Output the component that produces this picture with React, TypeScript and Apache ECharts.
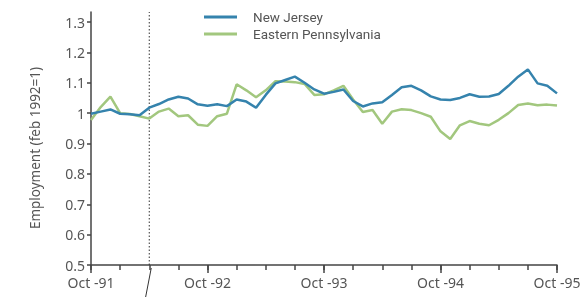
import React, { useEffect, useRef } from "react";
import * as echarts from "echarts";

const monthLabels = ["Oct -91", "Oct -92", "Oct -93", "Oct -94", "Oct -95"];
const seriesNames = ["New Jersey", "Eastern Pennsylvania"];
// monthly values, Oct 1991 .. Oct 1995
const newJersey = [
  0.998, 1.005, 1.012, 0.998, 0.996, 0.993, 1.018, 1.03, 1.045, 1.054, 1.048, 1.029,
  1.024, 1.029, 1.023, 1.045, 1.038, 1.018, 1.06, 1.098, 1.109, 1.12, 1.1, 1.078,
  1.064, 1.07, 1.078, 1.04, 1.022, 1.032, 1.036, 1.06, 1.085, 1.09, 1.075, 1.055,
  1.045, 1.043, 1.05, 1.062, 1.054, 1.055, 1.063, 1.09, 1.12, 1.144, 1.098, 1.09, 1.065,
];
const easternPennsylvania = [
  0.977, 1.02, 1.054, 1.0, 0.997, 0.99, 0.982, 1.005, 1.015, 0.99, 0.993, 0.962,
  0.958, 0.99, 0.998, 1.095, 1.075, 1.052, 1.075, 1.105, 1.104, 1.102, 1.096, 1.06,
  1.062, 1.075, 1.09, 1.045, 1.004, 1.01, 0.965, 1.005, 1.013, 1.01, 1.0, 0.988,
  0.94, 0.915, 0.96, 0.974, 0.965, 0.96, 0.978, 1.0, 1.027, 1.032, 1.026, 1.028, 1.025,
];
const dividerMonth = 6;
const yMin = 0.5;
const yMax = 1.3;
const yAxisTop = 1.335;

const FONT = "'Noto Sans', 'DejaVu Sans', sans-serif";
const LEGEND_FONT = "Roboto, 'Noto Sans', sans-serif";
const TXT = "#555";
const AX = "#444";
const NJ = "#3583ad";
const EP = "#a2c77e";

export default function App() {
  const ref = useRef<HTMLDivElement>(null);
  useEffect(() => {
    if (!ref.current) return;
    const chart = echarts.init(ref.current, null, { renderer: "svg" });
    const grid = { left: 91, right: 30, bottom: 32 };
    const toPts = (arr: number[]) => arr.map((v, i) => [i, v]);
    chart.setOption({
      animation: false,
      textStyle: { fontFamily: FONT },
      grid: [
        { ...grid, top: 12 },
        { ...grid, top: 22 },
      ],
      legend: {
        orient: "vertical",
        left: 199,
        top: 5,
        itemWidth: 33,
        itemHeight: 3,
        itemGap: 3,
        icon: "rect",
        data: [
          { name: seriesNames[0], itemStyle: { color: NJ } },
          { name: seriesNames[1], itemStyle: { color: EP } },
        ],
        textStyle: {
          fontSize: 13.5,
          lineHeight: 14,
          color: TXT,
          fontFamily: LEGEND_FONT,
          padding: [0, 0, 0, 11],
        },
      },
      xAxis: [
        {
          gridIndex: 0,
          type: "value",
          min: 0,
          max: 48,
          interval: 3,
          axisLine: { lineStyle: { color: AX, width: 1.5 } },
          axisTick: { length: 5, lineStyle: { color: AX, width: 1.5 } },
          axisLabel: {
            formatter: (v: number) => (v % 12 === 0 ? monthLabels[v / 12] : ""),
            fontSize: 14,
            color: TXT,
            margin: 10,
            fontFamily: FONT,
          },
          splitLine: { show: false },
        },
        {
          gridIndex: 0,
          type: "value",
          min: 0,
          max: 48,
          interval: 12,
          position: "bottom",
          axisLine: { show: false },
          axisTick: { length: 8, lineStyle: { color: AX, width: 1.5 } },
          axisLabel: { show: false },
          splitLine: { show: false },
        },
        {
          gridIndex: 1,
          type: "value",
          min: 0,
          max: 48,
          show: false,
          splitLine: { show: false },
        },
      ],
      yAxis: [
        {
          gridIndex: 0,
          type: "value",
          min: yMin,
          max: yAxisTop,
          axisLine: { show: true, lineStyle: { color: AX, width: 1.5 } },
          axisTick: { show: false },
          axisLabel: { show: false },
          splitLine: { show: false },
        },
        {
          gridIndex: 1,
          type: "value",
          min: yMin,
          max: yMax,
          interval: 0.1,
          axisLine: { show: false },
          axisTick: { show: true, length: 4, lineStyle: { color: AX, width: 1.5 } },
          axisLabel: {
            formatter: (v: number) => String(Number(v.toFixed(1))),
            fontSize: 14,
            color: TXT,
            margin: 6,
            fontFamily: FONT,
          },
          splitLine: { show: false },
        },
      ],
      series: [
        {
          name: "divider",
          type: "line",
          xAxisIndex: 0,
          yAxisIndex: 0,
          data: [
            [dividerMonth, yMin],
            [dividerMonth, yAxisTop],
          ],
          symbol: "none",
          silent: true,
          lineStyle: { color: "#333", width: 1, type: [1.5, 2] },
          z: 1,
        },
        {
          name: seriesNames[1],
          type: "line",
          xAxisIndex: 2,
          yAxisIndex: 1,
          data: toPts(easternPennsylvania),
          symbol: "none",
          lineStyle: { color: EP, width: 2.5 },
          itemStyle: { color: EP },
          z: 2,
        },
        {
          name: seriesNames[0],
          type: "line",
          xAxisIndex: 2,
          yAxisIndex: 1,
          data: toPts(newJersey),
          symbol: "none",
          lineStyle: { color: NJ, width: 2.5 },
          itemStyle: { color: NJ },
          z: 3,
        },
      ],
    });
    const px = chart.convertToPixel({ xAxisIndex: 0, yAxisIndex: 0 }, [dividerMonth, yMin]) as number[];
    chart.setOption({
      graphic: [
        {
          type: "line",
          shape: { x1: px[0] + 2, y1: px[1] + 3, x2: px[0] - 4, y2: px[1] + 34 },
          style: { stroke: "#333", lineWidth: 1 },
          silent: true,
        },
        {
          type: "text",
          x: 35,
          y: 148,
          rotation: Math.PI / 2,
          style: {
            text: "Employment (feb 1992=1)",
            fontSize: 13.5,
            fill: TXT,
            fontFamily: FONT,
            align: "center",
            verticalAlign: "middle",
          },
          silent: true,
        },
      ],
    });
    return () => chart.dispose();
  }, []);
  return (
    <div
      ref={ref}
      style={{ position: "fixed", left: 0, top: 0, width: 587, height: 297 }}
    />
  );
}
